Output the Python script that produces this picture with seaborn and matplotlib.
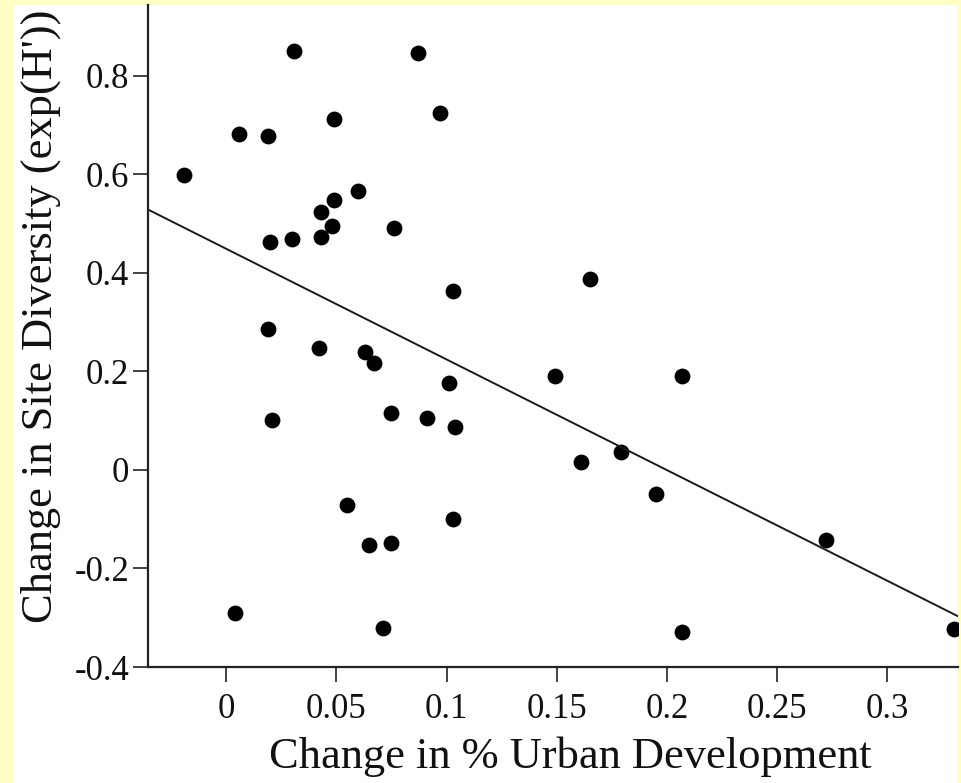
import numpy as np
import pandas as pd
import matplotlib
matplotlib.use('Agg')
import matplotlib.pyplot as plt
from matplotlib.patches import Rectangle
import seaborn as sns

# data
urban = [0.031, 0.087, 0.097, 0.049, 0.006, 0.019, -0.019, 0.060, 0.049, 0.043,
         0.048, 0.076, 0.020, 0.030, 0.043, 0.103, 0.019, 0.042, 0.063, 0.067,
         0.101, 0.021, 0.075, 0.091, 0.104, 0.055, 0.065, 0.075, 0.103, 0.004,
         0.071, 0.165, 0.149, 0.207, 0.179, 0.161, 0.195, 0.272, 0.207, 0.330]
diversity = [0.851, 0.847, 0.725, 0.712, 0.683, 0.678, 0.599, 0.566, 0.548, 0.524,
             0.496, 0.491, 0.462, 0.468, 0.472, 0.364, 0.286, 0.247, 0.239, 0.218,
             0.176, 0.102, 0.115, 0.106, 0.088, -0.072, -0.152, -0.148, -0.100, -0.291,
             -0.320, 0.387, 0.191, 0.191, 0.037, 0.016, -0.048, -0.142, -0.329, -0.323]

xticks = [0, 0.05, 0.1, 0.15, 0.2, 0.25, 0.3]
xtick_labels = ['0', '0.05', '0.1', '0.15', '0.2', '0.25', '0.3']
yticks = [-0.4, -0.2, 0, 0.2, 0.4, 0.6, 0.8]
ytick_labels = ['-0.4', '-0.2', '0', '0.2', '0.4', '0.6', '0.8']

df = pd.DataFrame({'urban': urban, 'diversity': diversity})

sns.set_style('ticks')
plt.rcParams['font.family'] = ['Liberation Serif', 'DejaVu Serif']

fig = plt.figure(figsize=(9.61, 7.83), dpi=100, facecolor='#FFFFC4')
# white panel inside the yellow frame
fig.add_artist(Rectangle((14 / 961, 0), 944 / 961, 778 / 783, transform=fig.transFigure,
                         facecolor='white', edgecolor='none', zorder=-1))

ax = fig.add_axes([148 / 961, 1 - 667 / 783, 810 / 961, 662 / 783])
ax.set_facecolor('white')
ax.set_xlim(-0.0354, 0.332)
ax.set_ylim(-0.4, 0.944)

sns.regplot(data=df, x='urban', y='diversity', ax=ax, ci=None, truncate=False,
            scatter_kws=dict(s=130, color='black', linewidths=0, alpha=1),
            line_kws=dict(color='#1a1a1a', lw=1.4))

ax.set_xlim(-0.0354, 0.332)
ax.set_ylim(-0.4, 0.944)

sns.despine(ax=ax)
for side in ['left', 'bottom']:
    ax.spines[side].set_linewidth(1.6)
    ax.spines[side].set_color('#222222')

ax.set_xticks(xticks)
ax.set_xticklabels(xtick_labels)
ax.set_yticks(yticks)
ax.set_yticklabels(ytick_labels)
ax.tick_params(axis='both', length=10.5, width=1.2, color='#222222',
               labelsize=25, labelcolor='#111111', direction='out')
ax.tick_params(axis='x', pad=8)
ax.tick_params(axis='y', pad=3)

ax.set_xlabel('Change in % Urban Development', fontsize=32, color='#111111')
ax.set_ylabel("Change in Site Diversity (exp(H'))", fontsize=32, color='#111111', va='center')
ax.xaxis.set_label_coords(0.521, -0.136)
ax.yaxis.set_label_coords(-0.133, 0.530)
ax.xaxis.label.set_va('center')

fig.savefig('out.png', dpi=100, facecolor=fig.get_facecolor())
